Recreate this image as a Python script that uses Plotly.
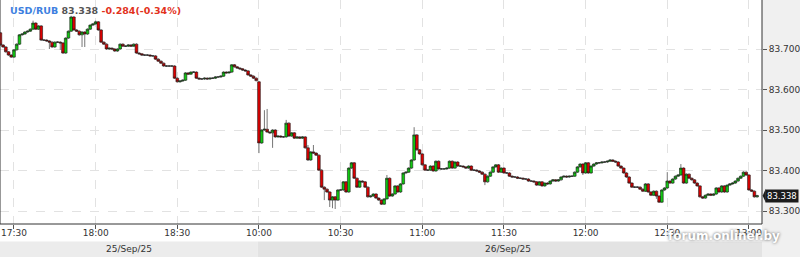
import pandas as pd
import plotly.graph_objects as go

# ---------------- data ----------------
day1_label = "25/Sep/25"
day2_label = "26/Sep/25"
day1_times = [t.strftime("%H:%M") for t in pd.date_range("2025-09-25 17:25", "2025-09-25 18:59", freq="1min")]
day2_times = [t.strftime("%H:%M") for t in pd.date_range("2025-09-26 10:00", "2025-09-26 13:03", freq="1min")]

day1_open = 83.740
day1_close = [
    83.710, 83.705, 83.693, 83.685, 83.680, 83.698, 83.712, 83.735, 83.737, 83.742,
    83.744, 83.749, 83.764, 83.749, 83.757, 83.722, 83.722, 83.720, 83.717, 83.705,
    83.717, 83.717, 83.715, 83.690, 83.727, 83.744, 83.779, 83.747, 83.744, 83.735,
    83.742, 83.737, 83.749, 83.759, 83.762, 83.767, 83.747, 83.717, 83.712, 83.700,
    83.702, 83.700, 83.695, 83.700, 83.712, 83.707, 83.707, 83.710, 83.707, 83.712,
    83.690, 83.688, 83.685, 83.685, 83.685, 83.683, 83.683, 83.675, 83.670, 83.665,
    83.658, 83.658, 83.658, 83.658, 83.628, 83.619, 83.621, 83.623, 83.641, 83.638,
    83.643, 83.643, 83.628, 83.626, 83.626, 83.628, 83.626, 83.628, 83.628, 83.631,
    83.631, 83.633, 83.643, 83.641, 83.643, 83.661, 83.656, 83.653, 83.651, 83.648,
    83.646, 83.636, 83.633, 83.628, 83.622,
]

day2_open = 83.619
day2_close = [
    83.468, 83.500, 83.502, 83.495, 83.493, 83.500, 83.483, 83.485, 83.483, 83.483,
    83.517, 83.485, 83.493, 83.480, 83.483, 83.480, 83.483, 83.456, 83.426, 83.446,
    83.443, 83.438, 83.401, 83.359, 83.354, 83.347, 83.327, 83.335, 83.327, 83.352,
    83.352, 83.372, 83.347, 83.406, 83.419, 83.381, 83.359, 83.374, 83.372, 83.359,
    83.335, 83.337, 83.342, 83.332, 83.327, 83.317, 83.330, 83.381, 83.337, 83.342,
    83.362, 83.347, 83.367, 83.394, 83.396, 83.406, 83.426, 83.488, 83.451, 83.441,
    83.414, 83.401, 83.401, 83.411, 83.399, 83.423, 83.404, 83.404, 83.404, 83.406,
    83.423, 83.406, 83.421, 83.411, 83.411, 83.409, 83.406, 83.411, 83.401, 83.401,
    83.399, 83.396, 83.391, 83.372, 83.386, 83.396, 83.409, 83.414, 83.396, 83.406,
    83.394, 83.394, 83.386, 83.384, 83.384, 83.381, 83.381, 83.379, 83.379, 83.374,
    83.374, 83.372, 83.364, 83.372, 83.362, 83.369, 83.367, 83.374, 83.377, 83.374,
    83.377, 83.384, 83.386, 83.384, 83.386, 83.386, 83.396, 83.409, 83.416, 83.394,
    83.419, 83.394, 83.411, 83.416, 83.419, 83.419, 83.421, 83.421, 83.423, 83.426,
    83.423, 83.421, 83.411, 83.406, 83.394, 83.384, 83.369, 83.359, 83.359, 83.359,
    83.354, 83.349, 83.367, 83.347, 83.339, 83.349, 83.337, 83.322, 83.352, 83.357,
    83.374, 83.369, 83.379, 83.386, 83.389, 83.406, 83.369, 83.391, 83.381, 83.377,
    83.369, 83.362, 83.335, 83.332, 83.339, 83.342, 83.339, 83.342, 83.357, 83.347,
    83.362, 83.347, 83.364, 83.367, 83.369, 83.374, 83.381, 83.386, 83.396, 83.389,
    83.352, 83.349, 83.335, 83.338,
]

# notable wick extremes (by candle time)
wick_high = {
    "17:37": 83.770, "17:51": 83.782, "18:00": 83.770,
    "10:02": 83.549, "10:03": 83.552, "10:10": 83.525, "10:18": 83.463,
    "10:20": 83.463, "10:47": 83.389, "10:57": 83.507, "12:30": 83.396,
    "12:35": 83.416,
}
wick_low = {
    "17:43": 83.700, "17:47": 83.698, "17:55": 83.705, "17:56": 83.705,
    "10:00": 83.443, "10:05": 83.456, "10:24": 83.327, "10:26": 83.310,
    "10:27": 83.307, "10:28": 83.305, "11:23": 83.364, "11:59": 83.389,
    "12:26": 83.330, "12:27": 83.320,
}
min_wick = 0.002

last_price = "83.338"
title_pair = "USD/RUB"
title_price = "83.338"
title_change = "-0.284(-0.34%)"
x_ticks = ["17:30", "18:00", "18:30", "10:00", "10:30", "11:00", "11:30", "12:00", "12:30", "13:00"]
y_ticks = [83.3, 83.4, 83.5, 83.6, 83.7]

# ---------------- build OHLC ----------------
times = day1_times + day2_times
closes = day1_close + day2_close
opens = [day1_open] + day1_close[:-1] + [day2_open] + day2_close[:-1]
highs, lows = [], []
for t, o, c in zip(times, opens, closes):
    highs.append(max(wick_high.get(t, 0), max(o, c) + min_wick))
    lows.append(min(wick_low.get(t, 999), min(o, c) - min_wick))

n1 = len(day1_times)
n = len(times)
x_lo, x_hi = -0.14, n + 0.8
y_lo, y_hi = 83.268, 83.821

fig = go.Figure(go.Candlestick(
    x=times, open=opens, high=highs, low=lows, close=closes,
    increasing=dict(fillcolor="#12c812", line=dict(color="#1a1a1a", width=0.6)),
    decreasing=dict(fillcolor="#dc0000", line=dict(color="#1a1a1a", width=0.6)),
    whiskerwidth=0, hoverinfo="skip",
))

font = "DejaVu Sans"
fig.update_layout(
    width=800, height=257,
    margin=dict(l=0, r=38, t=0, b=33),
    paper_bgcolor="white", plot_bgcolor="white",
    showlegend=False, boxgap=0.0, boxgroupgap=0.0,
    font=dict(family=font, size=9, color="#333333"),
    xaxis=dict(
        type="category", range=[x_lo, x_hi], rangeslider=dict(visible=False),
        tickmode="array", tickvals=x_ticks, ticktext=x_ticks,
        showgrid=True, gridcolor="#e2e2e2", griddash="dash", gridwidth=1,
        ticks="outside", ticklen=4, tickcolor="#555555", ticklabelstandoff=-4,
        tickfont=dict(family=font, size=9, color="#333333"),
        showline=False, zeroline=False, fixedrange=True,
    ),
    yaxis=dict(
        side="right", range=[y_lo, y_hi],
        tickmode="array", tickvals=y_ticks, tickformat=".3f",
        showgrid=True, gridcolor="#e2e2e2", griddash="dash", gridwidth=1,
        ticks="outside", ticklen=4, tickcolor="#555555",
        tickfont=dict(family=font, size=9, color="#333333"),
        showline=False, zeroline=False, fixedrange=True,
    ),
)

lp = float(last_price)
shapes = [
    # right axis column background
    dict(type="rect", xref="paper", yref="paper", x0=1, x1=1.06, y0=-0.2, y1=1.01,
         fillcolor="#f0f0f0", line=dict(width=0), layer="below"),
    # date bar
    dict(type="rect", xref="x", yref="paper", x0=x_lo, x1=n1 - 0.5, y0=-0.15, y1=-0.078,
         fillcolor="#ececec", line=dict(width=0), layer="below"),
    dict(type="rect", xref="x", yref="paper", x0=n1 - 0.5, x1=x_hi, y0=-0.15, y1=-0.078,
         fillcolor="#e3e3e3", line=dict(width=0), layer="below"),
    # frame
    dict(type="line", xref="paper", yref="paper", x0=0, x1=0, y0=0, y1=1,
         line=dict(color="#333333", width=1)),
    dict(type="line", xref="paper", yref="paper", x0=1, x1=1, y0=0, y1=1,
         line=dict(color="#333333", width=1)),
    dict(type="line", xref="paper", yref="paper", x0=0, x1=1, y0=0, y1=0,
         line=dict(color="#333333", width=1)),
    # pointer of the last-price label
    dict(type="path", xref="paper", yref="y",
         path=f"M 1.0008 {lp} L 1.0050 {lp + 0.017} L 1.0050 {lp - 0.017} Z",
         fillcolor="#1c1c1c", line=dict(width=0)),
]
fig.update_layout(shapes=shapes)

annotations = [
    dict(xref="paper", yref="paper", x=0, y=1, xanchor="left", yanchor="top",
         xshift=8, yshift=-3, showarrow=False,
         text=(f'<b><span style="color:#3d7fe0">{title_pair}</span> '
               f'<span style="color:#555555">{title_price}</span> '
               f'<span style="color:#e2321c">{title_change}</span></b>'),
         font=dict(family=font, size=9.5)),
    dict(xref="x", yref="paper", x=(x_lo + n1 - 0.5) / 2, y=-0.112, yanchor="middle",
         showarrow=False, text=day1_label, font=dict(family=font, size=9, color="#333333")),
    dict(xref="x", yref="paper", x=(n1 - 0.5 + n - 0.5) / 2, y=-0.112, yanchor="middle",
         showarrow=False, text=day2_label, font=dict(family=font, size=9, color="#333333")),
    dict(xref="paper", yref="y", x=1, y=lp, xanchor="left", xshift=3,
         yanchor="middle", showarrow=False, text=last_price, bgcolor="#1c1c1c", borderpad=1,
         font=dict(family=font, size=8.5, color="white")),
    dict(xref="paper", yref="paper", x=0.95, y=-0.054, xanchor="center", yanchor="middle",
         showarrow=False, text="<b>forum.onliner.by</b>",
         font=dict(family=font, size=12, color="white", shadow="0px 0px 3px #555555")),
]
fig.update_layout(annotations=annotations)

fig.write_html("out.html")
